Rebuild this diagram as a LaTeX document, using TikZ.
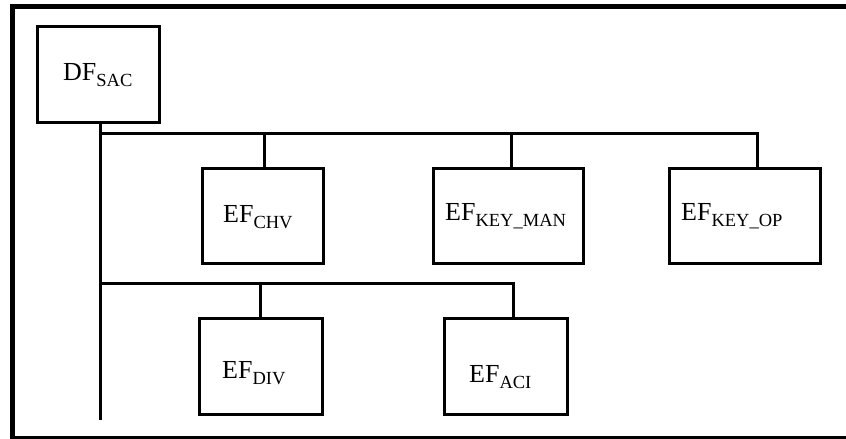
\documentclass[tikz,border=0pt]{standalone}
\usepackage{fontspec}
\setmainfont{Liberation Serif}
\newcommand{\lsub}[1]{\raisebox{-6.5pt}{\fontsize{18.5}{20}\selectfont #1}}
\tikzset{
  box/.style={draw, line width=3pt, rectangle, inner sep=0pt},
  conn/.style={draw, line width=3pt},
  lbl/.style={anchor=base west, inner sep=0pt, font=\fontsize{26}{30}\selectfont},
  frame/.style={line width=5pt}
}
\begin{document}
\begin{tikzpicture}[x=1pt,y=-1pt]
\useasboundingbox (0,0) rectangle (846,439);
% outer frame
\draw[frame] (12.5,439) -- (12.5,6.5) -- (846,6.5);
\draw[line width=2.5pt] (10,437.5) -- (846,437.5);
% boxes
\node[box, minimum width=122pt, minimum height=96pt] (df) at (98,74) {};
\node[box, minimum width=121pt, minimum height=95pt] (chv) at (262.5,216) {};
\node[box, minimum width=150pt, minimum height=95pt] (keyman) at (508,216) {};
\node[box, minimum width=151pt, minimum height=95pt] (keyop) at (744.5,216) {};
\node[box, minimum width=123pt, minimum height=96pt] (div) at (260.5,366) {};
\node[box, minimum width=123pt, minimum height=96pt] (aci) at (505.5,366) {};
% labels
\node[lbl] (tdf) at (63,80) {DF\lsub{SAC}};
\node[lbl] (tchv) at (223,222) {EF\lsub{CHV}};
\node[lbl] (tkeyman) at (445,220) {EF\lsub{KEY\_MAN}};
\node[lbl] (tkeyop) at (681,220) {EF\lsub{KEY\_OP}};
\node[lbl] (tdiv) at (222,378) {EF\lsub{DIV}};
\node[lbl] (taci) at (469,382) {EF\lsub{ACI}};
% connectors
\coordinate (j1) at (100,133);
\coordinate (j2) at (100,283);
\coordinate (tend) at (100,420);
\coordinate (chvtop) at ([xshift=1.5pt]chv.north);
\coordinate (kmtop) at ([xshift=3pt]keyman.north);
\coordinate (kotop) at ([xshift=12.5pt]keyop.north);
\coordinate (acitop) at ([xshift=7.5pt]aci.north);
\coordinate (dftop) at ([xshift=2pt]df.south);
\draw[conn] (dftop) -- (tend);
\draw[conn] (j1) -| (kotop);
\draw[conn] (j1 -| chvtop) -- (chvtop);
\draw[conn] (j1 -| kmtop) -- (kmtop);
\draw[conn] (j2) -| (acitop);
\draw[conn] (j2 -| div.north) -- (div.north);
\end{tikzpicture}
\end{document}
